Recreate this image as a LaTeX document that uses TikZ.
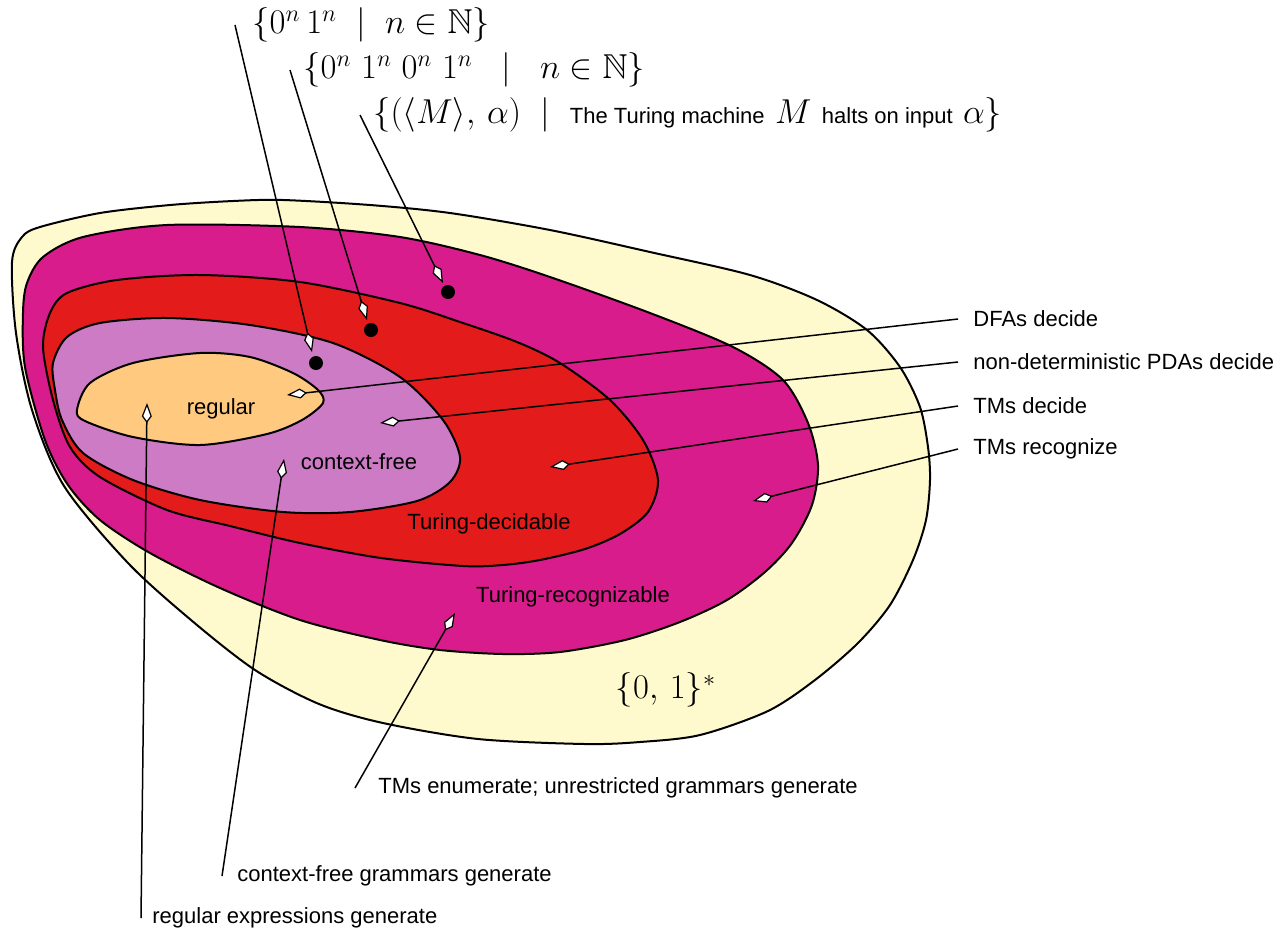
\documentclass[tikz,border=0pt]{standalone}
\usepackage{fontspec}
\usepackage{amssymb}
\usetikzlibrary{arrows.meta}
\newfontfamily\helv{Liberation Sans}
\newcommand{\sans}{\helv\fontsize{11}{13}\selectfont}
\definecolor{cstar}{RGB}{255,250,205}
\definecolor{crec}{RGB}{216,28,139}
\definecolor{cdec}{RGB}{228,27,27}
\definecolor{ccf}{RGB}{204,123,196}
\definecolor{creg}{RGB}{255,202,128}

\begin{document}
\begin{tikzpicture}[x=0.5pt,y=-0.5pt,
  region/.style={draw=black, line width=1pt, line join=round},
  txt/.style={font=\sans, inner sep=0pt},
  lbl/.style={txt, inner xsep=7.5pt, anchor=west},
  set/.style={font=\LARGE, inner ysep=0pt, anchor=west},
  dot/.style={circle, fill=black, inner sep=0pt, minimum size=7pt},
  ptr/.style={-{Kite[length=10pt,width=5pt,inset=3.4pt,fill=white,line width=0.6pt]}, line width=0.75pt}
]
  \useasboundingbox (0,0) rectangle (1286,933);

  % nested language classes
  \filldraw[region,fill=cstar] plot[smooth cycle] coordinates {
    (12,262) (22,237) (40,227) (100,213) (170,205) (233,201) (283,200) (370,205)
    (450,213) (550,230) (650,252) (750,275) (817,300) (867,330) (900,367) (920,407)
    (928,447) (930,480) (926,520) (913,560) (890,605) (858,643) (815,680) (768,711)
    (700,735) (640,742) (585,744) (478,739) (383,723) (319,704) (255,670) (191,620)
    (128,563) (64,486) (32,410) (16,333)};
  \filldraw[region,fill=crec] plot[smooth cycle] coordinates {
    (23,313) (27,283) (43,257) (83,237) (167,225) (300,227) (400,237) (480,255)
    (550,277) (650,313) (733,347) (783,380) (808,423) (818,465) (812,505) (792,543)
    (765,572) (727,600) (680,622) (625,640) (560,652) (503,654) (440,650) (380,640)
    (300,620) (220,588) (150,553) (100,520) (68,485) (45,440) (25,367)};
  \filldraw[region,fill=cdec] plot[smooth cycle] coordinates {
    (43,347) (50,313) (67,293) (117,280) (200,275) (300,282) (400,303) (460,322)
    (517,342) (560,363) (610,400) (643,440) (658,480) (648,512) (620,534) (585,549)
    (540,560) (503,565) (463,566) (381,558) (300,543) (230,526) (167,510) (100,477)
    (70,447) (53,400)};
  \filldraw[region,fill=ccf] plot[smooth cycle] coordinates {
    (53,363) (67,337) (100,323) (167,318) (250,325) (333,343) (400,377) (443,420)
    (460,457) (450,482) (417,501) (350,512) (283,512) (200,500) (133,480) (83,453)
    (62,420) (55,390)};
  \filldraw[region,fill=creg] plot[smooth cycle] coordinates {
    (77,410) (90,383) (133,363) (200,353) (250,357) (293,373) (318,390) (323,403)
    (302,420) (267,434) (200,445) (133,437) (85,421)};

  \node[txt] (reg) at (221,409) {regular};
  \node[txt] (cf)  at (359,462) {context-free};
  \node[txt] (dec) at (489,524) {Turing-decidable};
  \node[txt] (rec) at (573,597) {Turing-recognizable};
  \node[font=\LARGE] (all) at (666,690) {$\{0,\,1\}^*$};

  % example languages
  \node[dot] (d1) at (316,363) {};
  \node[dot] (d2) at (371,330) {};
  \node[dot] (d3) at (448,292) {};
  \node[set,inner xsep=8.5pt] (s1) at (235,25) {$\{0^n\,1^n \;\mid\; n\in\mathbb{N}\}$};
  \node[set,inner xsep=6.5pt] (s2) at (290,70) {$\{0^n\;1^n\;0^n\;1^n \;\;\mid\;\; n\in\mathbb{N}\}$};
  \node[set,inner xsep=6.5pt] (s3) at (360,115) {$\{(\langle M\rangle,\,\alpha) \;\mid\;$ {\sans The Turing machine} $M$ {\sans halts on input} $\alpha\}$};

  % machines and grammars
  \node[lbl] (dfa)  at (958,319) {DFAs decide};
  \node[lbl] (pda)  at (958,362) {non-deterministic PDAs decide};
  \node[lbl] (tmd)  at (958,406) {TMs decide};
  \node[lbl] (tmr)  at (958,449) {TMs recognize};
  \node[lbl,inner xsep=11.5pt] (enum) at (355,788) {TMs enumerate; unrestricted grammars generate};
  \node[lbl] (cfg)  at (222,876) {context-free grammars generate};
  \node[lbl,inner xsep=5.5pt] (rex) at (141,918) {regular expressions generate};

  \coordinate (t1) at (312,352);
  \coordinate (t2) at (367,320);
  \coordinate (t3) at (443,283);
  \coordinate (tdfa) at (287,395);
  \coordinate (tpda) at (380,423);
  \coordinate (ttmd) at (550,467);
  \coordinate (ttmr) at (753,501);
  \coordinate (tenum) at (455,613);
  \coordinate (tcfg) at (284,459);
  \coordinate (trex) at (147,403);

  \draw[ptr] (s1.west) -- (t1);
  \draw[ptr] (s2.west) -- (t2);
  \draw[ptr] (s3.west) -- (t3);
  \draw[ptr] (dfa.west) -- (tdfa);
  \draw[ptr] (pda.west) -- (tpda);
  \draw[ptr] (tmd.west) -- (ttmd);
  \draw[ptr] (tmr.west) -- (ttmr);
  \draw[ptr] (enum.west) -- (tenum);
  \draw[ptr] (cfg.west) -- (tcfg);
  \draw[ptr] (rex.west) -- (trex);
\end{tikzpicture}
\end{document}
